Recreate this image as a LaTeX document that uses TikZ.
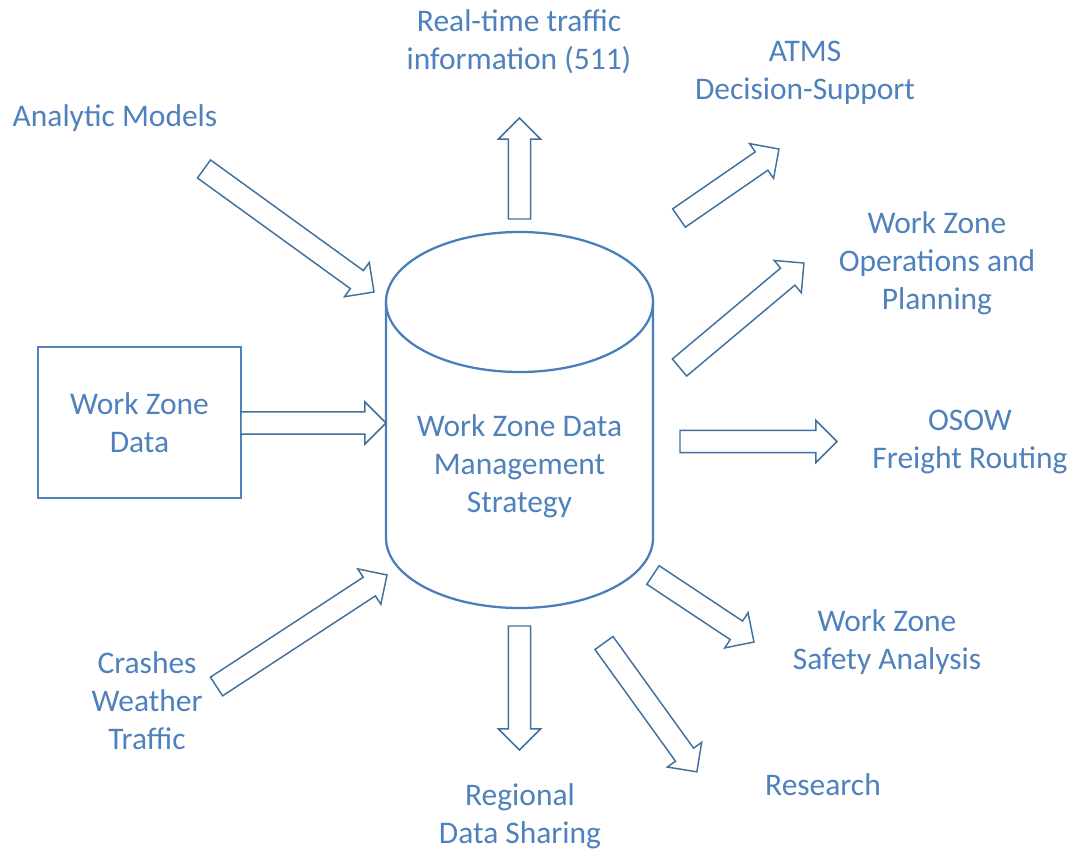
\documentclass[tikz,border=0pt]{standalone}
\usepackage{fontspec}
\setmainfont{Carlito}
\usetikzlibrary{shapes.arrows}
\usetikzlibrary{positioning}
\usetikzlibrary{calc}
\definecolor{labelblue}{HTML}{4F81BD}
\definecolor{lineblue}{HTML}{41719C}
\definecolor{drumblue}{HTML}{4A7EBB}

\begin{document}
\begin{tikzpicture}
		[
			x = 0.75pt, y = -0.75pt,
			label/.style = {text = labelblue, align = center, inner sep = 0cm, font = \fontsize{23.6}{28.5}\selectfont},
			databox/.style = {rectangle, draw = labelblue, line width = 0.8pt, minimum width = 152.25pt, minimum height = 113.25pt, label},
			blockarrow/.style = {single arrow, draw = lineblue, fill = white, line width = 1.1pt, inner xsep = 0cm, inner ysep = 7.8pt, outer sep = 0cm, minimum width = 0cm, single arrow head extend = 7.5pt, single arrow tip angle = 90, anchor = tail},
			drum/.style = {draw = drumblue, line width = 1.7pt},
		]
			%
			\useasboundingbox (0,0) rectangle (1075,853);
			%
			\draw[drum] (386,302) -- (386,538) arc [start angle = 180, end angle = 360, x radius = 100.125pt, y radius = 52.5pt] -- (653,302);
			\draw[drum] (519.5,302) ellipse [x radius = 100.125pt, y radius = 52.5pt];
			\node (strategy) [label] at (519.5,466) {Work Zone Data\\Management\\Strategy};
			%
			\node (wzdata) [databox] at (139.5,422.5) {Work Zone\\Data};
			%
			\node (realtime) [label] at (519,42) {Real-time traffic\\information (511)};
			\node (atms) [label] at (805,72.5) {ATMS\\Decision-Support};
			\node (analytic) [label] at (115,118) {Analytic Models};
			\node (operations) [label] at (937,263) {Work Zone\\Operations and\\Planning};
			\node (osow) [label] at (970,441.5) {OSOW\\Freight Routing};
			\node (safety) [label] at (887,642) {Work Zone\\Safety Analysis};
			\node (research) [label] at (823,785) {Research};
			\node (regional) [label] at (520,816) {Regional\\Data Sharing};
			\node (crashes) [label] at (147,701) {Crashes\\Weather\\Traffic};
			%
			\coordinate (dataT) at (241,423);     \coordinate (dataH) at (386,423);
			\coordinate (amT) at (204,169);       \coordinate (amH) at (374,292);
			\coordinate (rtT) at (519.5,219);     \coordinate (rtH) at (519.5,118);
			\coordinate (atT) at (679,218);       \coordinate (atH) at (779,149);
			\coordinate (opT) at (679.5,367.5);   \coordinate (opH) at (804,263);
			\coordinate (osT) at (680,441.5);     \coordinate (osH) at (837,441.5);
			\coordinate (saT) at (653,575);       \coordinate (saH) at (754,642);
			\coordinate (reT) at (604,643);       \coordinate (reH) at (697,772);
			\coordinate (rgT) at (519.5,626);     \coordinate (rgH) at (519.5,750);
			\coordinate (crT) at (216.5,686.5);   \coordinate (crH) at (387,575);
			%
			\foreach \tail/\head in {dataT/dataH, amT/amH, rtT/rtH, atT/atH, opT/opH, osT/osH, saT/saH, reT/reH, rgT/rgH, crT/crH}
				\path let \p1 = ($(\head)-(\tail)$) in
					node [blockarrow, minimum height = {veclen(\x1,\y1)}, rotate = {atan2(\y1,\x1)}] at (\tail) {};
			%
		\end{tikzpicture}
\end{document}
